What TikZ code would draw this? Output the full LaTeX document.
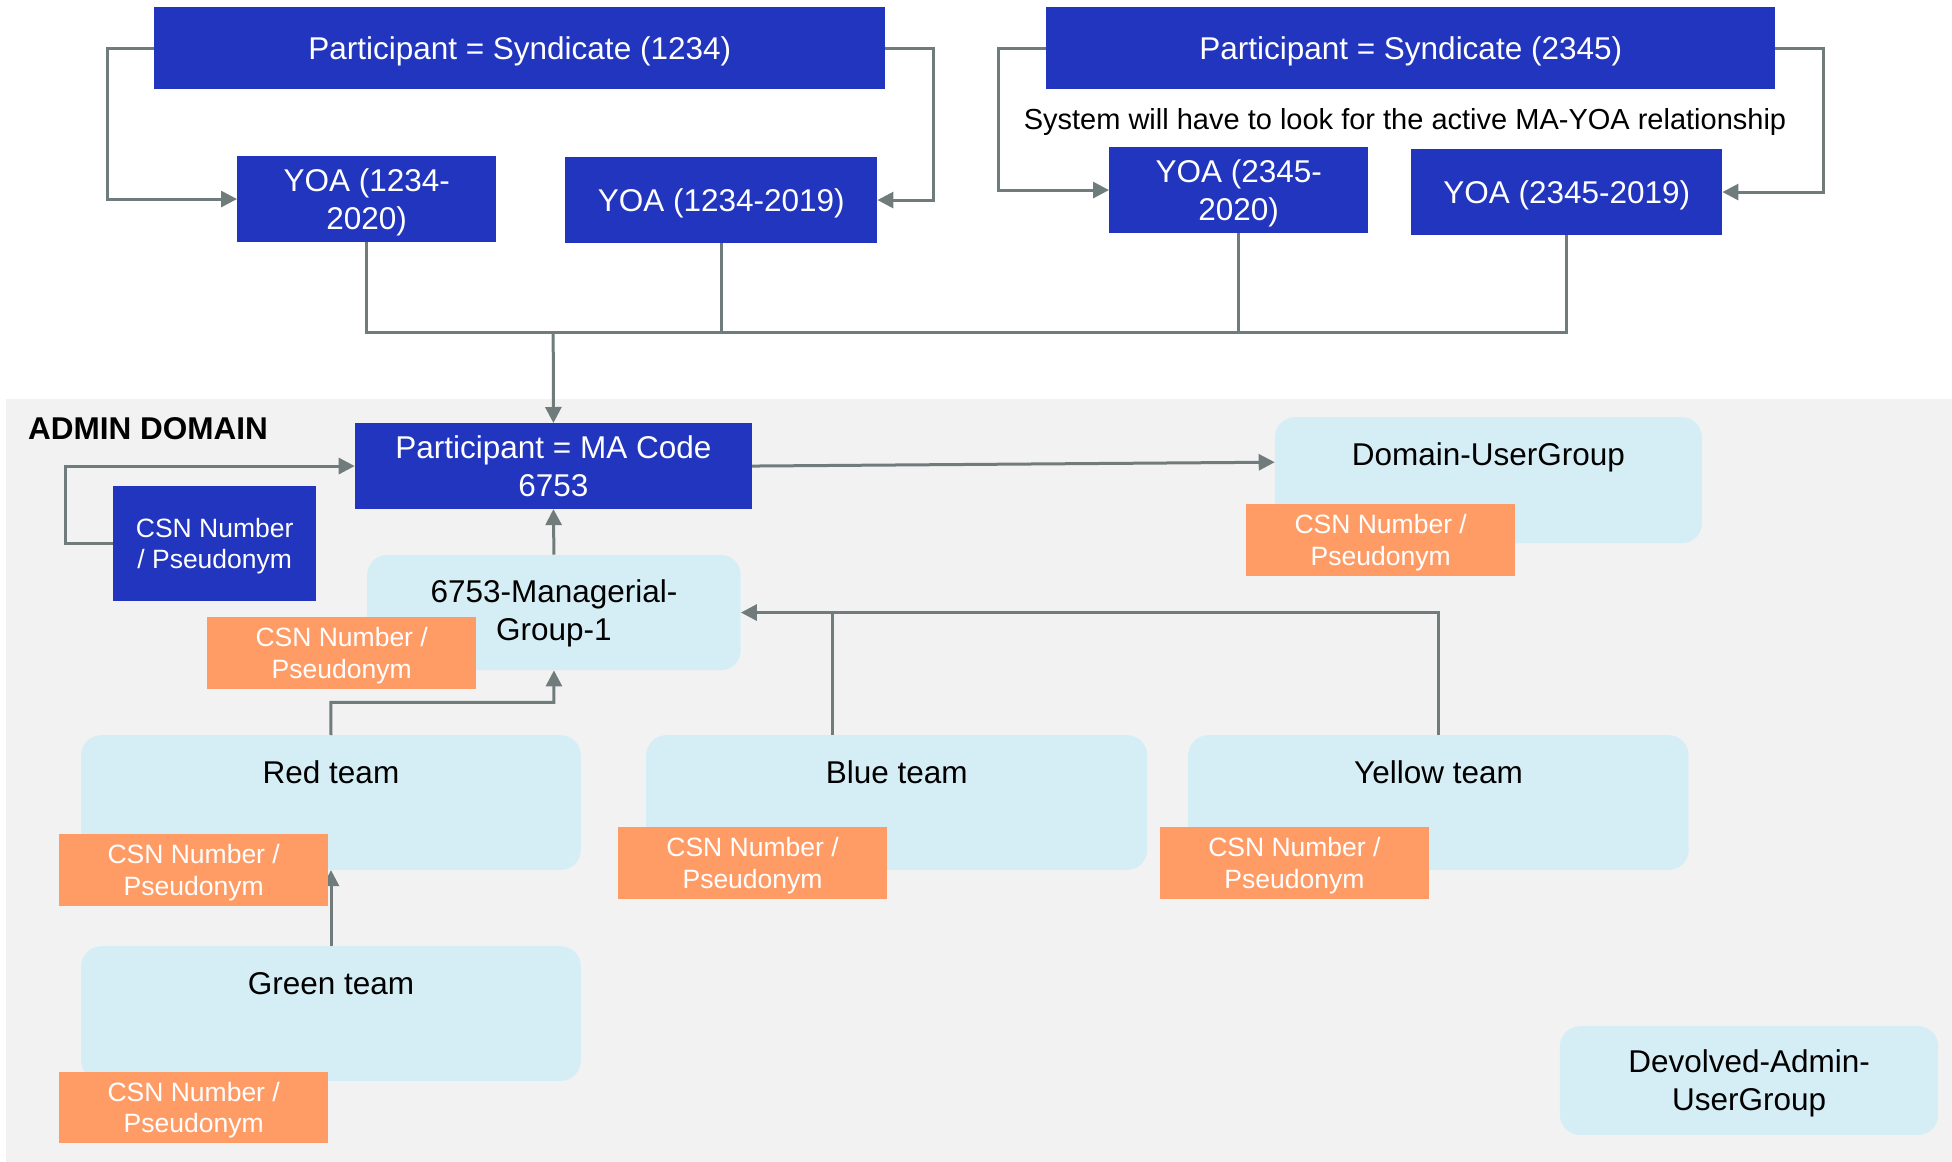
\documentclass[tikz,border=0pt]{standalone}
\usepackage{fontspec}
\setmainfont{Liberation Sans}
\usetikzlibrary{arrows.meta}

\definecolor{boxblue}{HTML}{2135BE}
\definecolor{tagorange}{HTML}{FF9C66}
\definecolor{groupblue}{HTML}{D5EEF5}
\definecolor{domaingray}{HTML}{F2F2F2}
\definecolor{wire}{HTML}{707C7C}

\newcommand\szmain{\fontsize{31.5}{37.8}\selectfont}
\newcommand\sztag{\fontsize{26.5}{31.8}\selectfont}
\newcommand\sznote{\fontsize{29}{34.8}\selectfont}

\begin{document}
\begin{tikzpicture}[x=1pt,y=-1pt,
  wh/.style n args={2}{minimum width=#1pt,minimum height=#2pt},
  % text boxes sized from cap height and line pitch so that lines sit centred
  oneline/.style={text height=22.6pt,text depth=0pt},
  twoline/.style={text height=60.4pt,text depth=0pt},
  tagtwo/.style={text height=50.8pt,text depth=0pt},
  entity/.style={fill=boxblue,text=white,font=\szmain,align=center,
    inner sep=0pt,anchor=north west},
  smallentity/.style={entity,font=\sztag,tagtwo},
  tag/.style={fill=tagorange,text=white,font=\sztag,align=center,
    inner sep=0pt,anchor=north west,tagtwo},
  group/.style={fill=groupblue,text=black,font=\szmain,align=center,
    inner sep=0pt,rounded corners=20pt,anchor=north west},
  titled/.style={group,text height=48pt},
  link/.style={draw=wire,line width=3pt},
  arr/.style={link,-{Triangle[length=16pt,width=16pt]}}]

\useasboundingbox (0,0) rectangle (1952,1162);

% admin domain background
\fill[domaingray] (6,399) rectangle (1952,1162);
\node[anchor=west,font=\szmain\bfseries,inner sep=0pt] (admin) at (28,429) {ADMIN DOMAIN};

% syndicates and years of account
\node[entity,oneline,wh={731}{81.7}] (syn1) at (154,7) {Participant = Syndicate (1234)};
\node[entity,oneline,wh={729}{81.7}] (syn2) at (1046,7) {Participant = Syndicate (2345)};
\node[inner sep=0pt,font=\sznote] (note) at (1405,122)
  {System will have to look for the active MA-YOA relationship};

\node[entity,twoline,wh={259}{85.7}] (yoa1a) at (237,156) {YOA (1234-\\2020)};
\node[entity,oneline,wh={312}{85.7}] (yoa1b) at (565,157) {YOA (1234-2019)};
\node[entity,twoline,wh={259}{85.7}] (yoa2a) at (1109,147) {YOA (2345-\\2020)};
\node[entity,oneline,wh={311}{85.7}] (yoa2b) at (1411,149) {YOA (2345-2019)};

% managing agent and groups
\node[entity,twoline,wh={397}{85.7}] (ma) at (354.7,423) {Participant = MA Code\\6753};
\node[smallentity,wh={203}{114.7}] (csn0) at (113,486) {CSN Number\\/ Pseudonym};

\node[group,text height=55.4pt,text depth=0pt,wh={373.5}{115.3}] (mgr) at (367,554.7) {6753-Managerial-\\Group-1};
\node[titled,minimum width=427pt,text depth=78pt] (dug) at (1274.7,417) {Domain-UserGroup};

\node[titled,minimum width=499.6pt,text depth=86.7pt] (red) at (81,735) {Red team};
\node[titled,minimum width=501pt,text depth=86.7pt] (blue) at (646,735) {Blue team};
\node[titled,minimum width=500.5pt,text depth=86.7pt] (yel) at (1188,735) {Yellow team};
\node[titled,minimum width=499.6pt,text depth=86.7pt] (green) at (81,946) {Green team};

\node[group,twoline,wh={378.3}{108.7}] (dev) at (1559.7,1026) {Devolved-Admin-\\UserGroup};

% connectors
\draw[arr] (syn1.west) -- ++(-47,0) |- (yoa1a.west);
\draw[arr] (syn1.east) -- ++(48,0) |- (yoa1b.east);
\draw[arr] (syn2.west) -- ++(-48,0) |- (yoa2a.west);
\draw[arr] (syn2.east) -- ++(48.5,0) |- (yoa2b.east);

\coordinate (bus) at (553.2,332.5);
\draw[link] (yoa1a.south) |- (bus);
\draw[link] (yoa1b.south) |- (bus);
\draw[link] (yoa2a.south) |- (bus);
\draw[link] (yoa2b.south) |- (bus);
\draw[arr] (bus) -- (ma.north);

\draw[arr] (csn0.west) -- ++(-48,0) |- (ma.west);
\draw[arr] (mgr.north) -- (ma.south);
\draw[arr] (ma.east) -- ([yshift=18pt]dug.west);

\coordinate (redjoin) at (330.8,702.3);
\draw[arr] (red.north) -- (redjoin) -| (mgr.south);
\draw[arr] (yel.north) |- (mgr.east);
\coordinate (bluejoin) at (832,612.3);
\draw[link] (bluejoin |- blue.north) -- (bluejoin);
\draw[arr] (green.north) -- (red.south);

% pseudonym tags
\node[tag,wh={269}{71.7}] (mgrtag) at (207,617) {CSN Number /\\Pseudonym};
\node[tag,wh={269}{71.7}] (dugtag) at (1246,504) {CSN Number /\\Pseudonym};
\node[tag,wh={269}{71.7}] (redtag) at (59,834) {CSN Number /\\Pseudonym};
\node[tag,wh={268.7}{71.7}] (bluetag) at (618,827) {CSN Number /\\Pseudonym};
\node[tag,wh={268.4}{71.7}] (yeltag) at (1160,827) {CSN Number /\\Pseudonym};
\node[tag,wh={269}{70.7}] (greentag) at (59,1072) {CSN Number /\\Pseudonym};

\end{tikzpicture}
\end{document}
